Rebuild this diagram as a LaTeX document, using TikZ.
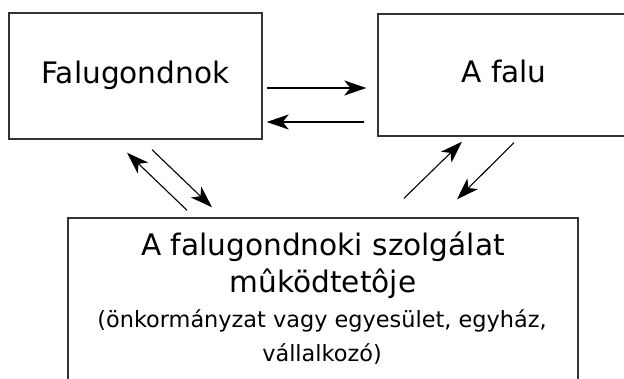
\documentclass[tikz,border=0pt]{standalone}
\usepackage{fontspec}
\setmainfont{DejaVu Sans}
\usetikzlibrary{arrows.meta}

\tikzset{
  box/.style={draw=black!80, line width=1.4pt, rectangle, inner sep=0pt},
  bigtext/.style={font=\fontsize{29.6}{34}\selectfont},
  smalltext/.style={font=\fontsize{22.4}{27}\selectfont},
  flow/.style={draw=black, line width=1.1pt,
    -{Stealth[length=22pt, width=15pt, inset=6pt]}},
}

\begin{document}
\begin{tikzpicture}[x=1pt, y=-1pt]
  \useasboundingbox (0,0) rectangle (624,379);
  \clip (0,0) rectangle (624,379);

  % the three parties
  \node[box, bigtext, minimum width=253pt, minimum height=126pt,
        text height=22pt, text depth=7.4pt] (fg) at (135.5,76) {Falugondnok};
  \node[box, bigtext, minimum width=252pt, minimum height=122pt,
        text height=22pt, text depth=7.4pt] (falu) at (504,75) {A falu};
  \node[box, minimum width=510pt, minimum height=202pt] (op) at (323,319) {};

  % operator description, line by line
  \node[bigtext, anchor=base, inner sep=0pt] (op1) at (323,256) {A falugondnoki szolgálat};
  \node[bigtext, anchor=base, inner sep=0pt] (op2) at (323,293) {mûködtetôje};
  \node[smalltext, anchor=base, inner sep=0pt] (op3) at (322,328) {(önkormányzat vagy egyesület, egyház,};
  \node[smalltext, anchor=base, inner sep=0pt] (op4) at (322,362) {vállalkozó)};

  % Falugondnok <-> A falu
  \draw[flow] ([shift={(4,12)}]fg.east) -- ([shift={(-11,13)}]falu.west);
  \draw[flow] ([shift={(-13,47)}]falu.west) -- ([shift={(4,46)}]fg.east);

  % Falugondnok <-> operator
  \draw[flow] ([shift={(-136,-7)}]op.north) -- ([shift={(-8.5,13)}]fg.south);
  \draw[flow] ([shift={(16.5,10)}]fg.south) -- ([shift={(-111,-10)}]op.north);

  % operator <-> A falu
  \draw[flow] ([shift={(81,-19)}]op.north) -- ([shift={(-42,5)}]falu.south);
  \draw[flow] ([shift={(10,6)}]falu.south) -- ([shift={(134,-18)}]op.north);
\end{tikzpicture}
\end{document}
